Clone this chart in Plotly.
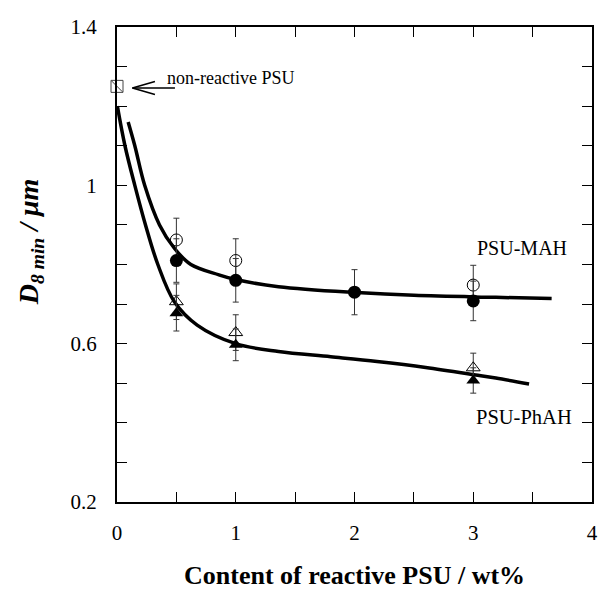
import plotly.graph_objects as go

# Data
x_pts = [0.5, 1, 2, 3]
mah_filled = [0.81, 0.76, 0.73, 0.708]
mah_filled_err = [0.055, 0.055, 0.057, 0.05]
mah_open_x = [0.5, 1, 3]
mah_open = [0.862, 0.81, 0.748]
mah_open_err = [0.055, 0.055, 0.05]

phah_x = [0.5, 1, 3]
phah_filled = [0.677, 0.597, 0.507]
phah_filled_err = [0.045, 0.04, 0.032]
phah_open = [0.706, 0.628, 0.539]
phah_open_err = [0.045, 0.045, 0.037]

nonreactive_x = [0]
nonreactive_y = [1.25]

mah_curve_x = [0.094, 0.15, 0.233, 0.358, 0.483, 0.622, 0.858, 1.0, 1.36, 2.02, 2.5, 3.19, 3.66]
mah_curve_y = [1.16, 1.10, 1.0, 0.9, 0.841, 0.80, 0.774, 0.762, 0.744, 0.729, 0.722, 0.717, 0.714]
phah_curve_x = [0.003, 0.067, 0.15, 0.24, 0.344, 0.483, 0.675, 1.0, 1.36, 1.8, 2.19, 2.6, 3.02, 3.19, 3.47]
phah_curve_y = [1.2, 1.10, 1.0, 0.9, 0.8, 0.706, 0.647, 0.6, 0.58, 0.567, 0.555, 0.54, 0.521, 0.513, 0.498]

FONT = "Liberation Serif"
err_style = dict(type="data", thickness=1, width=3, color="#333")

fig = go.Figure()

fig.add_trace(go.Scatter(x=mah_curve_x, y=mah_curve_y, mode="lines",
                         line=dict(color="black", width=3.5, shape="spline"), hoverinfo="skip"))
fig.add_trace(go.Scatter(x=phah_curve_x, y=phah_curve_y, mode="lines",
                         line=dict(color="black", width=3.5, shape="spline"), hoverinfo="skip"))

fig.add_trace(go.Scatter(x=mah_open_x, y=mah_open, mode="markers",
                         error_y=dict(array=mah_open_err, **err_style),
                         marker=dict(symbol="circle-open", size=12, color="black", line=dict(width=1))))
fig.add_trace(go.Scatter(x=x_pts, y=mah_filled, mode="markers",
                         error_y=dict(array=mah_filled_err, **err_style),
                         marker=dict(symbol="circle", size=13, color="black")))
fig.add_trace(go.Scatter(x=phah_x, y=phah_open, mode="markers",
                         error_y=dict(array=phah_open_err, **err_style),
                         marker=dict(symbol="triangle-up-open", size=12, color="black", line=dict(width=1))))
fig.add_trace(go.Scatter(x=phah_x, y=phah_filled, mode="markers",
                         error_y=dict(array=phah_filled_err, **err_style),
                         marker=dict(symbol="triangle-up", size=12, color="black")))

fig.add_trace(go.Scatter(x=nonreactive_x, y=nonreactive_y, mode="markers", cliponaxis=False,
                         marker=dict(symbol="square", size=12, color="white",
                                     line=dict(width=1, color="#444"))))
fig.add_trace(go.Scatter(x=nonreactive_x, y=nonreactive_y, mode="markers", cliponaxis=False,
                         marker=dict(symbol="line-nw", size=11, color="#444",
                                     line=dict(width=1, color="#444"))))

# open arrow pointing at the non-reactive PSU point: shaft + two chevron strokes
arrow_tip_x, arrow_tip_y = 0.13, 1.246
for ax_, ay_ in [(44, 0), (24, -7), (24, 7)]:
    fig.add_annotation(x=arrow_tip_x, y=arrow_tip_y, xref="x", yref="y", text="", showarrow=True,
                       ax=ax_, ay=ay_, axref="pixel", ayref="pixel",
                       arrowhead=0, arrowwidth=1.6, arrowcolor="black", standoff=0, startstandoff=0)

fig.add_annotation(x=0.40, y=1.271, xref="x", yref="y", text="non-reactive PSU", showarrow=False,
                   xanchor="left", font=dict(family=FONT, size=18, color="black"))
fig.add_annotation(x=3.41, y=0.842, xref="x", yref="y", text="PSU-MAH", showarrow=False,
                   font=dict(family=FONT, size=20, color="black"))
fig.add_annotation(x=3.43, y=0.415, xref="x", yref="y", text="PSU-PhAH", showarrow=False,
                   font=dict(family=FONT, size=20.5, color="black"))

# axis titles
fig.add_annotation(x=0.499, y=-0.155, xref="paper", yref="paper", xanchor="center", yanchor="middle",
                   text="<b>Content of reactive PSU / wt%</b>",
                   showarrow=False, font=dict(family=FONT, size=26, color="black"))
fig.add_annotation(x=-0.183, y=0.547, xref="paper", yref="paper", xanchor="center", yanchor="middle",
                   textangle=-90, text="<b><i>D<sub>8 min</sub> / μm</i></b>",
                   showarrow=False, font=dict(family=FONT, size=28, color="black"))

axis_common = dict(showgrid=False, zeroline=False, showline=True, linecolor="black", linewidth=2,
                   ticks="inside", ticklen=10, tickwidth=1.3, tickcolor="black", mirror="allticks",
                   tickfont=dict(family=FONT, size=21, color="black"))

fig.update_xaxes(range=[0, 4], dtick=1, tick0=0, ticklabelstandoff=11,
                 minor=dict(dtick=0.5, ticks="inside", ticklen=10, tickwidth=1.3, tickcolor="black"),
                 **axis_common)
fig.update_yaxes(range=[0.2, 1.4], dtick=0.4, tick0=0.2, ticklabelstandoff=14,
                 minor=dict(dtick=0.1, ticks="inside", ticklen=10, tickwidth=1.3, tickcolor="black"),
                 **axis_common)

fig.update_layout(width=610, height=589, margin=dict(l=117, r=12, t=27, b=87),
                  paper_bgcolor="white", plot_bgcolor="white", showlegend=False)

fig.write_html("out.html")
